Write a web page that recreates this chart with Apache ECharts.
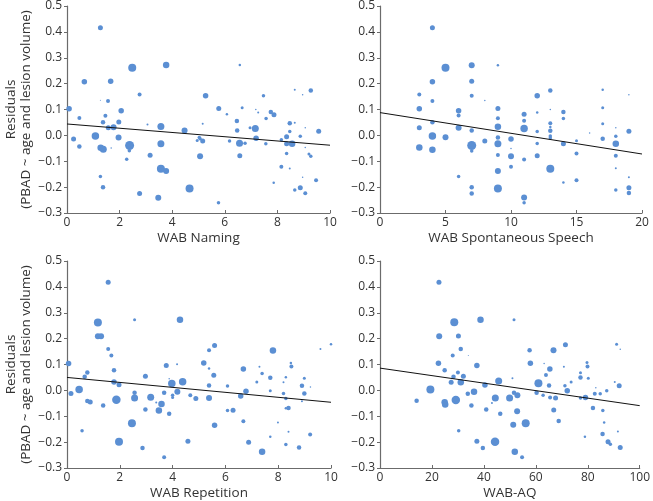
<!DOCTYPE html>
<html>
<head>
<meta charset="utf-8">
<script src="https://cdn.jsdelivr.net/npm/echarts@6/dist/echarts.min.js"></script>
<style>
  html, body { margin: 0; padding: 0; background: #fff; }
  #chart { width: 653px; height: 501px; }
</style>
</head>
<body>
<div id="chart"></div>
<script>
// [score, residual, marker size]
const namingPts = [
  [1.27, 0.416, 5], [2.48, 0.261, 8], [3.77, 0.272, 6.5], [6.57, 0.272, 2.5],
  [0.66, 0.207, 5.5], [1.66, 0.209, 5.5], [2.76, 0.158, 4], [5.27, 0.153, 5.5],
  [7.47, 0.153, 3.5], [8.66, 0.176, 2], [9.27, 0.173, 4.5], [8.96, 0.157, 1.5],
  [0.08, 0.103, 5.5], [1.27, 0.136, 1], [1.56, 0.133, 4], [2.06, 0.095, 5.5],
  [5.77, 0.104, 5], [6.08, 0.082, 2.5], [6.66, 0.107, 3], [7.18, 0.1, 1.5],
  [7.27, 0.088, 2], [7.75, 0.09, 4.5], [7.87, 0.08, 5], [0.47, 0.067, 4],
  [1.46, 0.076, 4], [1.97, 0.052, 5], [1.37, 0.051, 4.5], [3.06, 0.042, 2],
  [5.16, 0.045, 2], [6.46, 0.056, 4.5], [7.57, 0.065, 3.5], [8.47, 0.047, 4.5],
  [8.66, 0.049, 2], [9.06, 0.029, 1.5], [1.57, 0.029, 5], [1.77, 0.031, 6],
  [3.57, 0.034, 7], [4.47, 0.019, 6], [6.47, 0.019, 4.5], [6.96, 0.029, 3],
  [7.16, 0.027, 7], [8.47, 0.015, 3.5], [9.57, 0.016, 5], [1.08, -0.002, 7.5],
  [0.25, -0.014, 5], [1.96, -0.008, 6], [5.03, -0.008, 3.5], [5.06, -0.013, 3.5],
  [4.95, -0.02, 3], [5.16, -0.022, 5], [6.18, -0.022, 3.5], [7.19, -0.011, 5.5],
  [8.15, -0.017, 3.5], [8.35, -0.005, 5], [8.87, -0.003, 3.5], [0.47, -0.043, 4.5],
  [1.28, -0.048, 6.5], [1.38, -0.054, 7], [1.68, -0.049, 1.5], [2.38, -0.039, 9],
  [2.37, -0.059, 3.5], [3.57, -0.032, 7], [6.56, -0.03, 7], [6.77, -0.03, 3.5],
  [7.56, -0.032, 3.5], [8.35, -0.032, 5], [8.56, -0.032, 6.5], [9.06, -0.047, 1.5],
  [9.2, -0.072, 3], [9.27, -0.081, 3.5], [2.27, -0.092, 3.5], [3.16, -0.077, 5],
  [5.06, -0.081, 6], [6.57, -0.079, 5], [8.35, -0.07, 3.5], [8.15, -0.121, 4],
  [8.47, -0.128, 2], [3.57, -0.129, 8], [3.77, -0.138, 6], [1.27, -0.159, 3.5],
  [7.86, -0.183, 2.5], [8.96, -0.162, 1.5], [9.47, -0.173, 4], [1.37, -0.2, 4.5],
  [4.66, -0.205, 8], [8.66, -0.211, 3.5], [8.87, -0.202, 5], [9.06, -0.224, 4],
  [2.76, -0.225, 5], [3.47, -0.241, 6], [5.76, -0.26, 3.5]
];

const speechPts = [
  [4, 0.416, 5], [5, 0.261, 8], [7, 0.271, 6], [9, 0.271, 2.5],
  [4, 0.207, 5.5], [7, 0.209, 5], [3, 0.158, 4], [4, 0.133, 4],
  [7, 0.153, 4], [8, 0.135, 1.5], [12, 0.153, 5.5], [13, 0.173, 4.5],
  [17, 0.176, 2.5], [19, 0.157, 1.5], [3, 0.103, 5.5], [6, 0.095, 5.5],
  [6, 0.077, 4], [9, 0.104, 5], [9, 0.066, 4], [11, 0.082, 5],
  [11, 0.057, 4], [12, 0.088, 2.5], [13, 0.1, 1.5], [14, 0.09, 4.5],
  [14, 0.065, 3.5], [17, 0.107, 3], [17, 0.045, 3], [13, 0.047, 4],
  [3, 0.029, 5], [4, 0.051, 4.5], [6, 0.029, 6], [7, 0.019, 4.5],
  [9, 0.033, 6.5], [11, 0.027, 7.5], [12, 0.015, 3.5], [13, 0.018, 4.5],
  [13, 0.032, 2.5], [18, 0.029, 1.5], [19, 0.016, 5], [4, -0.002, 7.5],
  [5, -0.007, 6], [9, -0.008, 4.5], [10, -0.014, 5.5], [13, -0.002, 3.5],
  [13, -0.01, 3.5], [16, 0.009, 1.5], [17, -0.013, 4.5], [18, -0.003, 3.5],
  [15, -0.021, 3], [3, -0.047, 6.5], [4, -0.056, 6.5], [7, -0.039, 9],
  [7, -0.06, 3.5], [8, -0.022, 5], [9, -0.032, 7], [10, -0.051, 1.5],
  [12, -0.031, 3.5], [14, -0.032, 5], [18, -0.032, 6.5], [9, -0.076, 4],
  [10, -0.081, 6], [11, -0.093, 4], [12, -0.079, 5], [15, -0.07, 4],
  [18, -0.079, 4], [10, -0.121, 4], [13, -0.129, 8], [9, -0.138, 6],
  [18, -0.127, 2], [6, -0.159, 3.5], [14, -0.182, 2.5], [15, -0.173, 4],
  [19, -0.162, 2], [7, -0.2, 4.5], [9, -0.205, 8], [19, -0.202, 5],
  [18, -0.211, 3.5], [19, -0.223, 4.5], [7, -0.225, 4.5], [11, -0.24, 6],
  [11, -0.26, 3.5]
];

const repetitionPts = [
  [1.56, 0.418, 5], [1.17, 0.262, 8], [2.56, 0.273, 3], [4.28, 0.273, 6.5],
  [1.17, 0.209, 6], [1.29, 0.209, 6], [1.56, 0.16, 4], [1.68, 0.135, 4],
  [5.59, 0.173, 5], [5.38, 0.155, 4], [7.8, 0.154, 6.5], [0.06, 0.104, 5.5],
  [0.77, 0.069, 4.5], [0.67, 0.053, 4.5], [1.78, 0.078, 4.5], [3.76, 0.096, 5],
  [4.17, 0.101, 2], [5.18, 0.106, 5.5], [5.38, 0.085, 2.5], [5.56, 0.058, 5],
  [6.68, 0.083, 5.5], [7.29, 0.091, 2], [7.39, 0.065, 3.5], [7.7, 0.049, 4.5],
  [8.48, 0.106, 2.5], [8.5, 0.092, 4], [8.29, 0.051, 2.5], [8.2, 0.031, 2],
  [8.99, 0.047, 3], [9.22, 0.013, 1.5], [8.9, 0.018, 4.5], [9.6, 0.16, 2],
  [10, 0.178, 2.5], [7.19, 0.032, 3], [7.7, -0.001, 3], [1.78, 0.032, 5.5],
  [1.97, 0.022, 5], [2.97, 0.055, 5], [3.97, 0.027, 7.5], [4.38, 0.033, 7.5],
  [3.87, 0.045, 1.5], [5.38, 0.019, 4.5], [6.08, 0.017, 3.5], [0.46, 0.003, 7.5],
  [0.15, -0.012, 5], [2.56, -0.009, 4.5], [3.68, -0.009, 4.5], [4.18, -0.005, 6],
  [4, -0.019, 3.5], [4, -0.028, 3], [4.67, -0.019, 4], [6.78, -0.003, 5.5],
  [6.58, -0.022, 5.5], [8.2, -0.012, 3.5], [8.99, -0.012, 4.5], [8.29, -0.031, 3.5],
  [8.9, -0.042, 2], [0.77, -0.041, 4.5], [0.88, -0.045, 5], [1.87, -0.036, 8.5],
  [2.56, -0.029, 7], [3.17, -0.027, 7], [4.88, -0.031, 5], [5.38, -0.029, 6],
  [1.37, -0.058, 4.5], [3.38, -0.047, 2], [3.58, -0.053, 6.5], [3.48, -0.078, 6.5],
  [2.97, -0.074, 4.5], [3.87, -0.09, 4.5], [6.08, -0.078, 3.5], [6.29, -0.077, 5],
  [8.29, -0.069, 2.5], [8.39, -0.068, 4.5], [2.46, -0.127, 8], [5.59, -0.135, 5.5],
  [6.68, -0.119, 4], [7.99, -0.124, 2], [0.57, -0.156, 3.5], [8.39, -0.16, 2],
  [7.7, -0.179, 2.5], [9.21, -0.171, 4], [1.97, -0.199, 8], [4.58, -0.197, 5],
  [6.88, -0.2, 5], [8.29, -0.209, 3.5], [2.86, -0.223, 4.5], [8.79, -0.221, 4.5],
  [7.39, -0.237, 6.5], [3.68, -0.258, 4]
];

const aqPts = [
  [22.7, 0.418, 5], [28.6, 0.263, 8], [38.7, 0.273, 6.5], [51.6, 0.273, 3],
  [22.8, 0.209, 6], [30.2, 0.21, 5], [31.1, 0.16, 4.5], [28, 0.135, 4],
  [34, 0.135, 1], [57.6, 0.155, 4.5], [66.8, 0.155, 6], [71.4, 0.176, 5],
  [91.1, 0.178, 3], [92.5, 0.159, 1.5], [22.5, 0.105, 5.5], [24.9, 0.078, 4.5],
  [30, 0.069, 4], [28.3, 0.053, 4.5], [32.1, 0.055, 5], [37.3, 0.096, 5.5],
  [57.9, 0.105, 5.5], [63.2, 0.104, 1.5], [65.4, 0.083, 5.5], [63.9, 0.059, 4],
  [51, 0.047, 2], [70.8, 0.091, 2], [77.2, 0.068, 3], [77.2, 0.05, 4.5],
  [79.7, 0.108, 3], [79.9, 0.092, 4], [80.2, 0.047, 3], [73.6, 0.032, 3],
  [71.2, 0.018, 3.5], [65.1, 0.019, 4.5], [90.4, 0.032, 2], [92.1, 0.018, 5],
  [27.4, 0.031, 5], [31.1, 0.031, 6.5], [40.4, 0.021, 5.5], [45.7, 0.036, 7],
  [61, 0.028, 8], [19.4, 0.003, 8], [33.8, -0.013, 4.5], [36.2, -0.005, 6.5],
  [51.6, -0.009, 4.5], [52.9, -0.019, 6], [60.3, -0.009, 4.5], [62.8, -0.019, 3.5],
  [72.1, -0.001, 5.5], [82.7, -0.013, 4], [84.8, -0.013, 3.5], [87.3, -0.001, 3.5],
  [83.1, 0.01, 1.5], [14.1, -0.04, 4.5], [24.9, -0.046, 6.5], [25.1, -0.055, 6.5],
  [29.2, -0.037, 8.5], [44.4, -0.029, 7], [49.9, -0.029, 7], [43.1, -0.049, 2],
  [65.5, -0.028, 4], [67.6, -0.029, 5], [77.2, -0.029, 3.5], [79.1, -0.028, 5.5],
  [35.2, -0.058, 4.5], [40.9, -0.074, 4.5], [46.3, -0.09, 4.5], [52.8, -0.081, 6],
  [66.9, -0.076, 5], [82, -0.068, 4.5], [85.8, -0.078, 3.5], [68.8, -0.118, 4.5],
  [51.3, -0.133, 6], [56.1, -0.127, 8], [86.3, -0.124, 2.5], [30.3, -0.156, 3.5],
  [85.7, -0.169, 4.5], [91.6, -0.159, 2], [78.9, -0.179, 2.5], [37.3, -0.197, 5],
  [44.3, -0.199, 8.5], [87.8, -0.199, 5], [88.7, -0.208, 3.5], [39.6, -0.223, 4.5],
  [92.5, -0.221, 5], [51.9, -0.237, 6.5], [54.7, -0.258, 4]
];

// least-squares line end points
const namingFit = [[0, 0.044], [10, -0.038]];
const speechFit = [[0, 0.088], [20, -0.072]];
const repetitionFit = [[0, 0.05], [10, -0.046]];
const aqFit = [[0, 0.086], [100, -0.059]];

const xMax = [10, 20, 10, 100];
const xStep = [2, 5, 2, 20];
const xNames = ['WAB Naming', 'WAB Spontaneous Speech', 'WAB Repetition', 'WAB-AQ'];
const yName = 'Residuals\n(PBAD ~ age and lesion volume)';

const panels = [
  { pts: namingPts, fit: namingFit },
  { pts: speechPts, fit: speechFit },
  { pts: repetitionPts, fit: repetitionFit },
  { pts: aqPts, fit: aqFit }
];

const grids = [
  { left: 67, top: 6, width: 263, height: 207 },
  { left: 380, top: 6, width: 262, height: 207 },
  { left: 67, top: 261, width: 264, height: 208 },
  { left: 380, top: 261, width: 262, height: 208 }
];

const font = '"Open Sans", "Noto Sans", sans-serif';
const axisColor = '#6b6b6b';
const dotColor = '#5b8fd3';

let xAxes = [], yAxes = [], series = [];
panels.forEach((p, i) => {
  xAxes.push({
    gridIndex: i,
    type: 'value',
    min: 0,
    max: xMax[i],
    interval: xStep[i],
    name: xNames[i],
    nameLocation: 'middle',
    nameGap: 18,
    nameTextStyle: { color: '#333', fontSize: 13.5, fontFamily: font },
    axisLine: { onZero: false, lineStyle: { color: axisColor, width: 1.2 } },
    axisTick: { inside: true, length: 3, lineStyle: { color: axisColor } },
    axisLabel: { margin: 4, color: '#333', fontSize: 12, fontFamily: font },
    splitLine: { show: false }
  });
  yAxes.push({
    gridIndex: i,
    type: 'value',
    min: -0.3,
    max: 0.5,
    interval: 0.1,
    name: i % 2 === 0 ? yName : '',
    nameLocation: 'middle',
    nameRotate: 90,
    nameGap: 33,
    nameTextStyle: { color: '#333', fontSize: 13.5, fontFamily: font, lineHeight: 15 },
    axisLine: { show: true, lineStyle: { color: axisColor, width: 1.2 } },
    axisTick: { show: true, length: 3, lineStyle: { color: axisColor } },
    axisLabel: {
      margin: 5, color: '#333', fontSize: 12, fontFamily: font,
      formatter: v => v.toFixed(1).replace('-', '\u2212')
    },
    splitLine: { show: false }
  });
  series.push({
    type: 'scatter',
    xAxisIndex: i,
    yAxisIndex: i,
    data: p.pts,
    symbolSize: d => d[2],
    itemStyle: { color: dotColor, opacity: 1 },
    silent: true,
    z: 2
  });
  series.push({
    type: 'line',
    xAxisIndex: i,
    yAxisIndex: i,
    data: p.fit,
    symbol: 'none',
    lineStyle: { color: '#111', width: 1 },
    silent: true,
    z: 3
  });
});

const myChart = echarts.init(document.getElementById('chart'));
myChart.setOption({
  animation: false,
  backgroundColor: '#fff',
  grid: grids,
  xAxis: xAxes,
  yAxis: yAxes,
  series: series
});
</script>
</body>
</html>
